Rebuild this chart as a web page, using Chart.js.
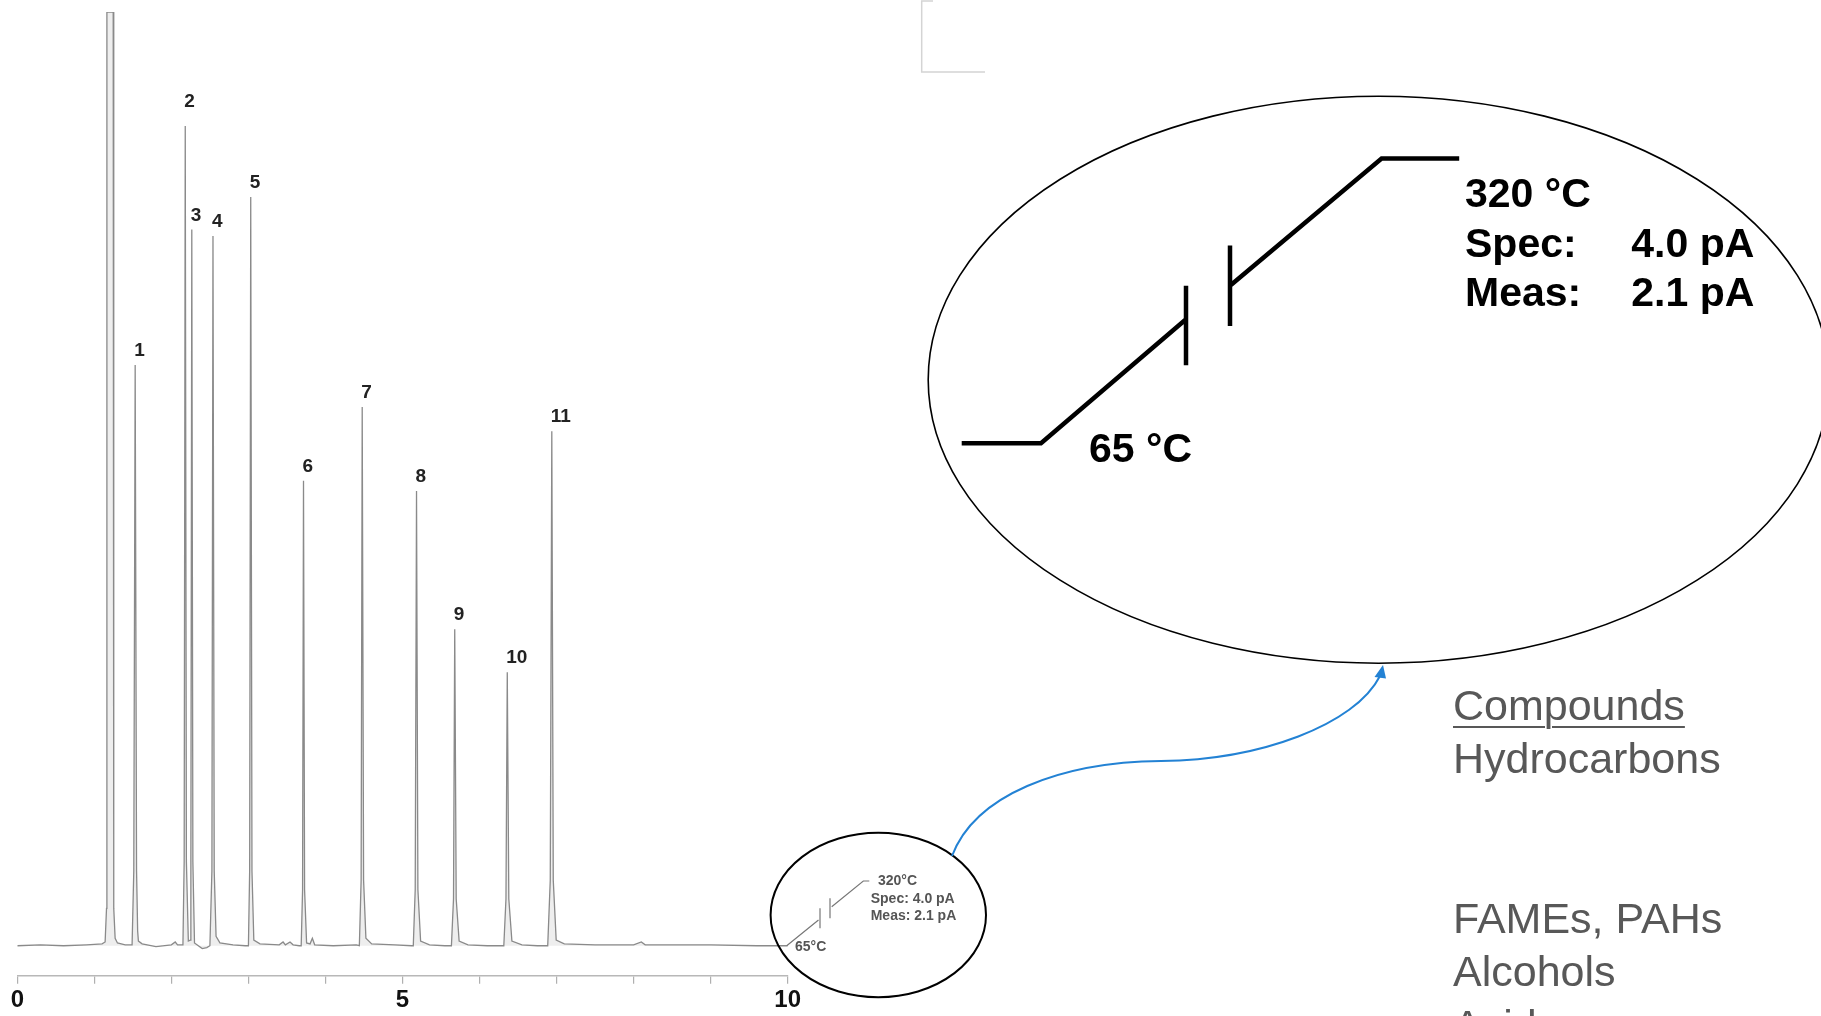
<!DOCTYPE html>
<html>
<head>
<meta charset="utf-8">
<title>GC chromatogram</title>
<script src="https://cdn.jsdelivr.net/npm/chart.js"></script>
<style>
    html, body { margin: 0; padding: 0; background: #fff; overflow: hidden; }
    #wrap { position: relative; width: 1821px; height: 1016px; }
    #gc { position: absolute; left: 0; top: 0; }
    #compounds {
        position: absolute; left: 1453px; top: 679px;
        font-family: "Liberation Sans", Arial, sans-serif; font-size: 43px;
        line-height: 53.3px; color: #585858; white-space: pre;
    }
    #compounds .head { text-decoration: underline; text-decoration-thickness: 2px; text-underline-offset: 6px; }
</style>
</head>
<body>
<div id="wrap">
    <canvas id="gc" width="1821" height="1016"></canvas>
    <div id="compounds"></div>
</div>
<script>
// retention time axis (min)
var xTicks = [0, 1, 2, 3, 4, 5, 6, 7, 8, 9, 10];
var xLabelled = [0, 5, 10];

// detector trace, [time (min), signal (% full scale)]
var trace = [
    [0.00, 0.0], [0.30, 0.1], [0.60, 0.0], [0.90, 0.1], [1.10, 0.2],
    // solvent
    [1.140, 0.4], [1.158, 4], [1.163, 100], [1.245, 100], [1.252, 4], [1.270, 0.8], [1.30, 0.3], [1.40, 0.1],
    // 1
    [1.49, 0.1], [1.512, 8], [1.530, 62.2], [1.548, 8], [1.562, 1.6], [1.572, 0.5], [1.62, 0.2],
    [1.80, -0.1], [2.00, 0.1], [2.05, 0.4], [2.08, 0.1],
    // 2, 3
    [2.15, 0.1], [2.166, 9], [2.180, 87.8], [2.195, 9], [2.220, 0.5],
    [2.245, 0.6], [2.253, 9], [2.265, 76.7], [2.279, 9], [2.30, 0.3],
    [2.40, -0.3], [2.46, -0.2],
    // 4
    [2.50, 0.0], [2.526, 8], [2.540, 76.0], [2.556, 8], [2.580, 1.0], [2.63, 0.3],
    [2.80, 0.1], [2.96, 0.0],
    // 5
    [3.00, 0.0], [3.016, 8], [3.030, 80.2], [3.046, 8], [3.07, 0.6], [3.15, 0.2],
    [3.40, 0.1], [3.45, 0.4], [3.48, 0.1], [3.54, 0.4], [3.58, 0.1], [3.66, 0.0],
    // 6
    [3.685, 0.0], [3.703, 6], [3.715, 49.8], [3.729, 6], [3.755, 0.3], [3.80, 0.2], [3.83, 0.8], [3.86, 0.1],
    [4.10, 0.0], [4.40, 0.1],
    // 7
    [4.44, 0.0], [4.463, 7], [4.477, 57.7], [4.495, 7], [4.525, 0.8], [4.60, 0.2],
    [4.90, 0.1], [5.12, 0.0],
    // 8
    [5.14, 0.0], [5.165, 6], [5.182, 48.7], [5.200, 6], [5.235, 0.5], [5.35, 0.1],
    [5.55, 0.0], [5.62, 0.0],
    // 9
    [5.635, 0.0], [5.662, 5], [5.678, 33.9], [5.697, 5], [5.735, 0.5], [5.85, 0.1],
    [6.10, 0.0], [6.30, 0.0],
    // 10
    [6.315, 0.0], [6.343, 5], [6.360, 29.3], [6.380, 5], [6.42, 0.5], [6.55, 0.1],
    [6.75, 0.0], [6.87, 0.0],
    // 11
    [6.885, 0.0], [6.918, 7], [6.938, 55.1], [6.957, 7], [6.995, 0.6], [7.10, 0.2],
    [7.50, 0.1], [8.00, 0.1], [8.10, 0.4], [8.15, 0.1], [9.00, 0.1], [9.60, 0.0], [10.00, 0.0]
];

// numbered peaks
var peakNames = ['1', '2', '3', '4', '5', '6', '7', '8', '9', '10', '11'];
var peakTimes = [1.530, 2.180, 2.265, 2.540, 3.030, 3.715, 4.477, 5.182, 5.678, 6.360, 6.938];
var peakHeights = [62.2, 87.8, 76.7, 76.0, 80.2, 49.8, 57.7, 48.7, 33.9, 29.3, 55.1];

// oven program inset
var startTemp = '65 °C';
var endTemp = '320 °C';
var specLabel = 'Spec:';
var specValue = '4.0 pA';
var measLabel = 'Meas:';
var measValue = '2.1 pA';

var compounds = ['Compounds', 'Hydrocarbons', '', '', 'FAMEs, PAHs', 'Alcohols', 'Acids'];

var FONT = '"Liberation Sans", Arial, sans-serif';

// slide text on the right
var box = document.getElementById('compounds');
compounds.forEach(function (c, i) {
    var s = document.createElement('span');
    if (i === 0) s.className = 'head';
    s.textContent = c;
    box.appendChild(s);
    if (i < compounds.length - 1) box.appendChild(document.createTextNode('\n'));
});

function programShape(ctx, pts, b1, b2) {
    ctx.beginPath();
    ctx.moveTo(pts[0][0], pts[0][1]);
    ctx.lineTo(pts[1][0], pts[1][1]);
    ctx.lineTo(pts[2][0], pts[2][1]);
    ctx.moveTo(b1[0], b1[1]); ctx.lineTo(b1[0], b1[2]);
    ctx.moveTo(b2[0], b2[1]); ctx.lineTo(b2[0], b2[2]);
    ctx.moveTo(pts[3][0], pts[3][1]);
    ctx.lineTo(pts[4][0], pts[4][1]);
    ctx.lineTo(pts[5][0], pts[5][1]);
    ctx.stroke();
}

var overlay = {
    id: 'overlay',
    afterDraw: function (chart) {
        var ctx = chart.ctx;
        var xs = chart.scales.x, ys = chart.scales.y;
        ctx.save();

        // peak numbers
        ctx.fillStyle = '#222';
        ctx.font = 'bold 19px ' + FONT;
        ctx.textAlign = 'left';
        ctx.textBaseline = 'middle';
        for (var i = 0; i < peakNames.length; i++) {
            var lift = peakNames[i] === '2' ? 24 : 14;
            ctx.fillText(peakNames[i], xs.getPixelForValue(peakTimes[i]) - 1, ys.getPixelForValue(peakHeights[i]) - lift);
        }

        // faint frame corner at the top
        ctx.strokeStyle = '#d4d4d4';
        ctx.lineWidth = 1.5;
        ctx.beginPath();
        ctx.moveTo(933, 1); ctx.lineTo(921.7, 1); ctx.lineTo(921.7, 72); ctx.lineTo(985, 72);
        ctx.stroke();

        // small inset
        ctx.strokeStyle = '#777';
        ctx.lineWidth = 1.2;
        programShape(ctx,
            [[786.7, 945.7], [786.7, 945.7], [818.5, 920], [831.7, 906.7], [863.3, 881], [869.3, 881]],
            [820, 908.3, 928.3], [830, 898.3, 918.3]);
        ctx.fillStyle = '#555';
        ctx.font = 'bold 14px ' + FONT;
        ctx.fillText(endTemp.replace(' ', ''), 878, 881);
        ctx.fillText(specLabel + ' ' + specValue, 870.7, 899);
        ctx.fillText(measLabel + ' ' + measValue, 870.7, 916);
        ctx.fillText(startTemp.replace(' ', ''), 795, 946.7);

        ctx.strokeStyle = '#000';
        ctx.lineWidth = 2;
        ctx.beginPath();
        ctx.ellipse(878.3, 915, 107.7, 82.2, 0, 0, Math.PI * 2);
        ctx.stroke();

        // connector to the enlarged view
        ctx.strokeStyle = '#2382d4';
        ctx.fillStyle = '#2382d4';
        ctx.lineWidth = 2;
        ctx.beginPath();
        ctx.moveTo(952, 856);
        ctx.bezierCurveTo(975, 795, 1060, 762, 1161, 761);
        ctx.bezierCurveTo(1260, 760, 1355, 725, 1380, 676);
        ctx.stroke();
        ctx.beginPath();
        ctx.moveTo(1383, 665);
        ctx.lineTo(1374.5, 677);
        ctx.lineTo(1386, 678.5);
        ctx.closePath();
        ctx.fill();

        // enlarged view
        ctx.strokeStyle = '#000';
        ctx.lineWidth = 1.6;
        ctx.beginPath();
        ctx.ellipse(1378.6, 379.7, 450.4, 283.5, 0, 0, Math.PI * 2);
        ctx.stroke();

        ctx.lineWidth = 4.5;
        programShape(ctx,
            [[961.7, 443.3], [1041, 443.3], [1186, 319.2], [1230, 285.7], [1381.6, 158.5], [1459.2, 158.5]],
            [1186, 285.7, 365.2], [1230, 245.5, 325.9]);

        ctx.fillStyle = '#000';
        ctx.font = 'bold 41px ' + FONT;
        ctx.textBaseline = 'alphabetic';
        ctx.fillText(endTemp, 1465, 206.5);
        ctx.fillText(specLabel, 1465, 256.7);
        ctx.fillText(specValue, 1631.3, 256.7);
        ctx.fillText(measLabel, 1465, 305.8);
        ctx.fillText(measValue, 1631.3, 305.8);
        ctx.fillText(startTemp, 1089, 462);

        ctx.restore();
    }
};

var ctx = document.getElementById('gc').getContext('2d');

var chart = new Chart(ctx, {
    type: 'line',
    data: {
        datasets: [{
            label: 'FID signal',
            data: trace.map(function (p) { return { x: p[0], y: p[1] }; }),
            borderColor: '#8a8a8a',
            borderWidth: 1.3,
            backgroundColor: 'rgba(170,170,170,0.2)',
            fill: 'origin',
            pointRadius: 0,
            tension: 0
        }]
    },
    options: {
        responsive: false,
        animation: false,
        devicePixelRatio: 1,
        layout: { padding: { left: 17.3, right: 1033.3, top: 12, bottom: 0 } },
        plugins: { legend: { display: false }, tooltip: { enabled: false } },
        scales: {
            x: {
                type: 'linear',
                min: 0,
                max: 10,
                afterFit: function (s) { s.height = 40.3; },
                afterBuildTicks: function (s) { s.ticks = xTicks.map(function (v) { return { value: v }; }); },
                ticks: {
                    autoSkip: false,
                    maxRotation: 0,
                    padding: 2,
                    color: '#111',
                    font: { family: FONT, size: 24, weight: 'bold' },
                    callback: function (v) { return xLabelled.indexOf(v) >= 0 ? String(v) : ''; }
                },
                grid: { drawOnChartArea: false, tickLength: 8, color: '#b0b0b0', lineWidth: 1.2 },
                border: { color: '#b8b8b8', width: 1.5 }
            },
            y: { type: 'linear', min: -3.21, max: 100, display: false }
        }
    },
    plugins: [overlay]
});
</script>
</body>
</html>
